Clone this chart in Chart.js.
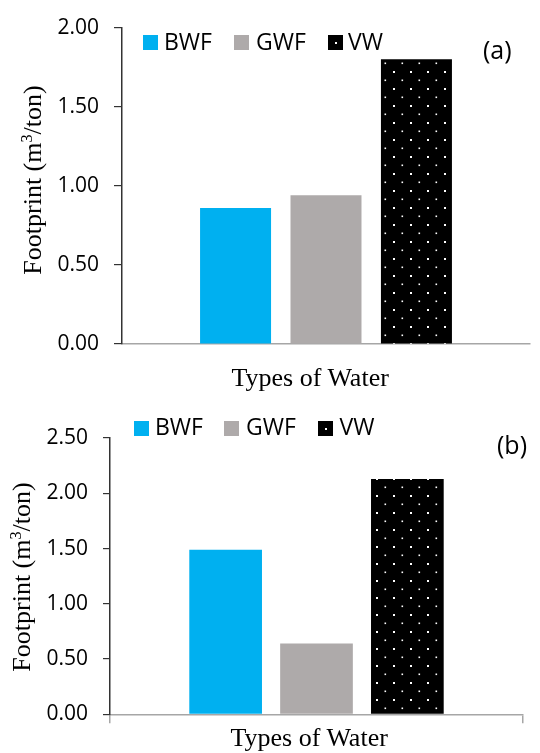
<!DOCTYPE html>
<html><head><meta charset="utf-8">
<script src="https://cdn.jsdelivr.net/npm/chart.js@4.4.1/dist/chart.umd.min.js"></script>
<style>
html,body{margin:0;padding:0;background:#fff;}
body{width:540px;height:753px;position:relative;overflow:hidden;}
canvas{position:absolute;left:0;}
.t{position:absolute;white-space:nowrap;line-height:1;color:#000;}
.leg{font-family:'Open Sans',sans-serif;font-size:23px;}
.box{position:absolute;width:15px;height:15px;}
.serif{font-family:'Liberation Serif','Times New Roman',serif;font-size:26px;}
.ytitle{width:300px;height:26px;text-align:center;transform:translate(-50%,-50%) rotate(-90deg);}
sup{font-size:0.62em;vertical-align:0.55em;line-height:0;}
</style></head>
<body>
<canvas id="ca" width="540" height="390" style="top:0"></canvas>
<canvas id="cb" width="540" height="363" style="top:390px"></canvas>
<div id="overlay"></div>
<script>
// ---- data ----
const categories = ['Types of Water'];
const seriesNames = ['BWF', 'GWF', 'VW'];
const valuesA = [0.86, 0.94, 1.80];
const valuesB = [1.49, 0.64, 2.13];
const ticksA = ['0.00', '0.50', '1.00', '1.50', '2.00'];
const ticksB = ['0.00', '0.50', '1.00', '1.50', '2.00', '2.50'];
const panelLabels = ['(a)', '(b)'];
const axisTitleX = 'Types of Water';
const axisTitleY = 'Footprint (m<sup>3</sup>/ton)';

// ---- styles ----
const colors = ['#00B0F0', '#AEAAAA', null];

function dotPattern(ctx){
  const c = document.createElement('canvas'); c.width = 17; c.height = 17;
  const g = c.getContext('2d');
  g.fillStyle = '#000'; g.fillRect(0,0,17,17);
  g.fillStyle = '#fff';
  g.fillRect(2,3,2,2);
  g.fillRect(10.5,11.5,1.6,1.6);
  return ctx.createPattern(c, 'repeat');
}

function makeChart(id, values, ticks, o){
  const canvas = document.getElementById(id);
  const ctx = canvas.getContext('2d');
  const pat = dotPattern(ctx);
  const tickVals = ticks.map(Number);
  return new Chart(ctx, {
    type: 'bar',
    data: {
      labels: categories,
      datasets: seriesNames.map((n, i) => ({
        label: n,
        data: [values[i]],
        backgroundColor: colors[i] || pat,
        borderWidth: 0,
        categoryPercentage: o.cat,
        barPercentage: o.bar
      }))
    },
    options: {
      responsive: false,
      animation: false,
      devicePixelRatio: 1,
      layout: { padding: { top: o.top, right: o.right, left: 0, bottom: 0 } },
      plugins: { legend: { display: false }, tooltip: { enabled: false } },
      scales: {
        x: {
          ticks: { display: false },
          grid: { display: o.endTicks, drawOnChartArea: false, offset: true, color: '#A6A6A6', lineWidth: 1.5, tickLength: 9 },
          border: { color: '#A6A6A6', width: 1.5 },
          afterFit(s){ s.height = o.xh; }
        },
        y: {
          min: tickVals[0], max: tickVals[tickVals.length-1],
          ticks: {
            stepSize: 0.5,
            color: '#000',
            padding: 15,
            font: { family: 'Open Sans', size: 21 },
            callback: (v) => ticks.find(t => Math.abs(Number(t) - v) < 1e-9) ?? ''
          },
          grid: { drawOnChartArea: false, color: '#333', tickLength: o.tl, lineWidth: 1.2 },
          border: { color: '#333', width: 1.5 },
          afterFit(s){ s.width = o.yw; }
        }
      }
    }
  });
}

makeChart('ca', valuesA, ticksA, { top: 18, right: 10, xh: 46, yw: 122, cat: 0.665, bar: 0.785, tl: 8, endTicks: false });
makeChart('cb', valuesB, ticksB, { top: 48, right: 17, xh: 38.7, yw: 110, cat: 0.66, bar: 0.80, tl: 7, endTicks: true });

// ---- text overlays (legend, labels, axis titles) ----
const ov = document.getElementById('overlay');
function add(html, cls, style){
  const d = document.createElement('div');
  d.className = cls; d.innerHTML = html; Object.assign(d.style, style); ov.appendChild(d); return d;
}
function legend(boxXs, textXs, boxTop, textTop){
  seriesNames.forEach((n, i) => {
    const b = add('', 'box', { left: boxXs[i] + 'px', top: boxTop + 'px', background: colors[i] || '#000' });
    if (!colors[i]) {
      const dot = document.createElement('div');
      Object.assign(dot.style, { position: 'absolute', left: '7px', top: '7px', width: '2px', height: '2px', background: '#fff' });
      b.appendChild(dot);
    }
    add(n, 't leg', { left: textXs[i] + 'px', top: textTop + 'px' });
  });
}
legend([143, 234, 328], [164, 256, 348], 35, 29.6);
legend([134, 224, 318], [155, 246, 339.5], 421, 415.3);

add(panelLabels[0], 't leg', { left: '483px', top: '37px', fontSize: '25px' });
add(panelLabels[1], 't leg', { left: '497px', top: '432px', fontSize: '25px' });

const xa = add(axisTitleX, 't serif', { top: '365.2px' });
xa.style.left = (310 - xa.offsetWidth / 2) + 'px';
const xb = add(axisTitleX, 't serif', { top: '725.2px' });
xb.style.left = (309 - xb.offsetWidth / 2) + 'px';

add(axisTitleY, 't serif ytitle', { left: '32.8px', top: '180px' });
add(axisTitleY, 't serif ytitle', { left: '21.8px', top: '577px' });
</script>
</body></html>
